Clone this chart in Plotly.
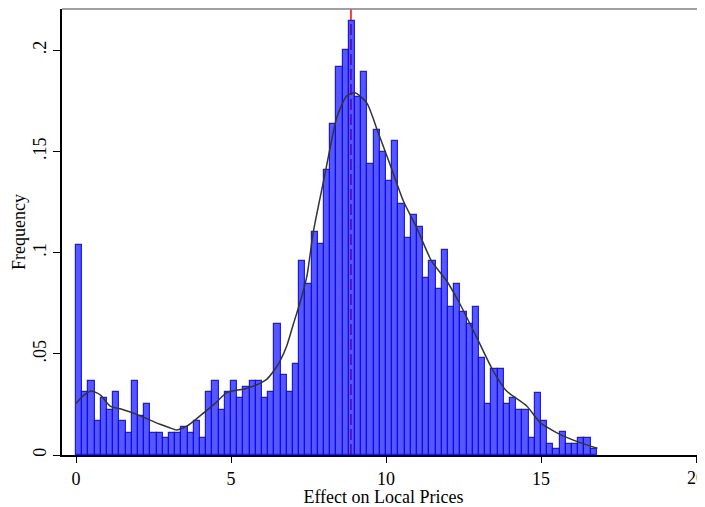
import plotly.graph_objects as go

# ---- data -------------------------------------------------------------
bin_start = 0.0
bin_width = 0.2
density = [
    0.104, 0.031, 0.0365, 0.0166, 0.028, 0.0224, 0.031, 0.0166, 0.011, 0.0365,
    0.0193, 0.025, 0.011, 0.011, 0.0083, 0.011, 0.011, 0.0138, 0.011, 0.0166,
    0.0083, 0.031, 0.0365, 0.0224, 0.031, 0.0365, 0.028, 0.0337, 0.0365, 0.0365,
    0.028, 0.031, 0.0646, 0.0393, 0.031, 0.0448, 0.0957, 0.0843, 0.110, 0.1041,
    0.1407, 0.1634, 0.1917, 0.2000, 0.2144, 0.177, 0.1892, 0.1436, 0.1606, 0.1497,
    0.1354, 0.155, 0.1242, 0.107, 0.1184, 0.1126, 0.0876, 0.0958, 0.0819, 0.1014,
    0.0733, 0.0843, 0.0705, 0.0649, 0.0733, 0.0478, 0.0252, 0.0423, 0.0423, 0.0252,
    0.028, 0.0224, 0.0224, 0.0084, 0.0308, 0.0168, 0.0056, 0.0028, 0.0113, 0.0056,
    0.0056, 0.0083, 0.0083, 0.0028,
]
kde_x = [0.0, 0.25, 0.51, 0.8, 1.1, 1.5, 1.96, 2.35, 2.71, 3.0, 3.25, 3.6, 4.0,
         4.45, 4.86, 5.1, 5.4, 5.8, 6.15, 6.4, 6.58, 6.8, 7.01, 7.23, 7.45, 7.66,
         8.03, 8.41, 8.73, 9.0, 9.38, 9.75, 10.13, 10.56, 10.99, 11.47, 11.96,
         12.39, 12.93, 13.46, 13.89, 14.54, 14.97, 15.3, 15.61, 16.26, 16.82]
kde_y = [0.0255, 0.0295, 0.0316, 0.0295, 0.0242, 0.0225, 0.0201, 0.0175, 0.0152,
         0.0136, 0.0124, 0.0145, 0.0193, 0.025, 0.0308, 0.0318, 0.0325, 0.0345,
         0.0374, 0.042, 0.0464, 0.054, 0.0646, 0.0755, 0.0885, 0.1107, 0.1387,
         0.1667, 0.1774, 0.179, 0.174, 0.1592, 0.1436, 0.1255, 0.1123, 0.0958,
         0.086, 0.0745, 0.058, 0.0415, 0.0316, 0.0242, 0.016, 0.0128, 0.0102,
         0.0061, 0.0033]
ref_line_x = 8.87
x_tick_vals = [0, 5, 10, 15, 20]
x_tick_text = ["0", "5", "10", "15", "20"]
y_tick_vals = [0, 0.05, 0.1, 0.15, 0.2]
y_tick_text = ["0", ".05", ".1", ".15", ".2"]

# ---- figure -----------------------------------------------------------
centers = [bin_start + bin_width * (i + 0.5) for i in range(len(density))]

fig = go.Figure()
fig.add_trace(go.Bar(
    x=centers, y=density, width=bin_width,
    marker=dict(color="rgba(0,0,255,0.66)",
                line=dict(color="rgba(10,10,245,0.9)", width=1.2)),
    hoverinfo="skip", showlegend=False,
))
fig.add_trace(go.Scatter(
    x=kde_x, y=kde_y, mode="lines",
    line=dict(color="#333333", width=1.5, shape="spline", smoothing=0.6),
    hoverinfo="skip", showlegend=False,
))

# reference line (drawn beneath the translucent bars)
fig.add_shape(type="line", layer="below", xref="x", yref="y domain",
              x0=ref_line_x, x1=ref_line_x, y0=0, y1=1,
              line=dict(color="red", width=1.5, dash="11px,4px"))
# top border
fig.add_shape(type="line", xref="paper", yref="paper", x0=0, x1=1, y0=1, y1=1,
              line=dict(color="#808080", width=1.5))

font = "Liberation Serif, Times New Roman, serif"

# last tick label sits at the window edge (plotly hides it), so draw it as text
fig.add_annotation(x=x_tick_vals[-1], xref="x", y=0, yref="paper",
                   text=x_tick_text[-1], showarrow=False,
                   xanchor="center", yanchor="top", yshift=-11,
                   font=dict(family=font, size=18, color="black"))

fig.update_layout(
    width=697, height=499,
    margin=dict(l=54, r=0, t=1, b=52),
    paper_bgcolor="white", plot_bgcolor="white",
    bargap=0,
    font=dict(family=font, size=18, color="black"),
    xaxis=dict(range=[-0.4516, 20.29], tickvals=x_tick_vals, ticktext=x_tick_text,
               ticks="outside", ticklen=6, tickwidth=1.2, tickcolor="black",
               showline=True, linecolor="black", linewidth=1.8,
               showgrid=False, zeroline=False, automargin=False,
               title=dict(text="Effect on Local Prices", standoff=0,
                          font=dict(family=font, size=18))),
    yaxis=dict(range=[0, 0.2204], tickvals=y_tick_vals, ticktext=y_tick_text,
               tickangle=-90,
               ticks="outside", ticklen=7, tickwidth=1.2, tickcolor="black",
               showline=True, linecolor="black", linewidth=1.8,
               showgrid=False, zeroline=False, automargin=False,
               title=dict(text="Frequency", standoff=0,
                          font=dict(family=font, size=18))),
)

fig.write_html("out.html")
